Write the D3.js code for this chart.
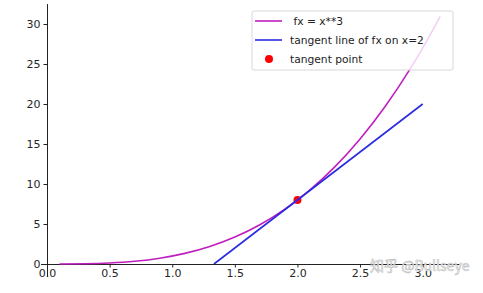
<!DOCTYPE html>
<html>
<head>
<meta charset="utf-8">
<script src="https://d3js.org/d3.v7.min.js"></script>
<style>
body { margin: 0; background: #fff; }
text { font-family: "DejaVu Sans", sans-serif; }
</style>
</head>
<body>
<div id="vis"></div>
<script>
var width = 483
var height = 293

// curve samples (fx = x**3)
var curveX = [0.1, 0.3, 0.5, 0.7, 0.9, 1.1, 1.3, 1.5, 1.7, 1.9, 2.0, 2.1, 2.3, 2.5, 2.7, 2.9, 3.05, 3.14]
var curveY = [0.001, 0.027, 0.125, 0.343, 0.729, 1.331, 2.197, 3.375, 4.913, 6.859, 8.0, 9.261, 12.167, 15.625, 19.683, 24.389, 28.37, 30.96]
// tangent line end points
var tangentX = [1.333, 3.0]
var tangentY = [0, 20]
var pointX = [2]
var pointY = [8]

var xTicks = [0.0, 0.5, 1.0, 1.5, 2.0, 2.5, 3.0]
var yTicks = [0, 5, 10, 15, 20, 25, 30]
var legendLabels = [" fx = x**3", "tangent line of fx on x=2", "tangent point"]

var svg = d3.select("#vis")
  .append("svg")
  .attr("width", width)
  .attr("height", height)
  .style("display", "block")

var x = d3.scaleLinear().domain([-0.052, 3.29]).range([40.5, 459])
var y = d3.scaleLinear().domain([-1.55, 32.55]).range([276.4, 3.6])

//axes, spines sit at data 0
var xAxis = svg.append("g")
  .attr("transform", `translate(0,${y(0)})`)
  .call(d3.axisBottom(x).tickValues(xTicks).tickFormat(d3.format(".1f")).tickSize(3.5).tickSizeOuter(0).tickPadding(2))
var yAxis = svg.append("g")
  .attr("transform", `translate(${x(0)},0)`)
  .call(d3.axisLeft(y).tickValues(yTicks).tickSize(3.5).tickSizeOuter(0).tickPadding(3))

svg.selectAll(".domain").attr("stroke", "#222").attr("stroke-width", 1)
svg.selectAll(".tick line").attr("stroke", "#222")
svg.selectAll(".tick text")
  .style("font-size", "11px")
  .attr("fill", "#262626")

var line = d3.line().x(d => x(d[0])).y(d => y(d[1])).curve(d3.curveMonotoneX)

//tangent point under the lines
svg.selectAll(".pt")
  .data(d3.zip(pointX, pointY))
  .enter().append("circle")
  .attr("cx", d => x(d[0]))
  .attr("cy", d => y(d[1]))
  .attr("r", 4)
  .attr("fill", "#ff0000")

svg.append("path")
  .datum(d3.zip(curveX, curveY))
  .attr("d", line)
  .attr("fill", "none")
  .attr("stroke", "#bf1fbf")
  .attr("stroke-width", 1.6)

svg.append("path")
  .datum(d3.zip(tangentX, tangentY))
  .attr("d", d3.line().x(d => x(d[0])).y(d => y(d[1])))
  .attr("fill", "none")
  .attr("stroke", "#2a2ae0")
  .attr("stroke-width", 1.6)

//legend
var legend = svg.append("g").attr("transform", "translate(252,11)")
legend.append("rect")
  .attr("width", 201)
  .attr("height", 59)
  .attr("rx", 2)
  .attr("fill", "white")
  .attr("fill-opacity", 0.8)
  .attr("stroke", "#d8d8d8")

var legendColors = ["#bf1fbf", "#2a2ae0", "#ff0000"]
legendLabels.forEach(function(label, i) {
  var ly = 10 + i * 19
  if (i < 2) {
    legend.append("line")
      .attr("x1", 3).attr("x2", 30)
      .attr("y1", ly).attr("y2", ly)
      .attr("stroke", legendColors[i])
      .attr("stroke-width", 1.6)
  } else {
    legend.append("circle")
      .attr("cx", 17).attr("cy", ly)
      .attr("r", 4)
      .attr("fill", legendColors[i])
  }
  legend.append("text")
    .attr("x", 38)
    .attr("y", ly + 4)
    .style("font-size", "10.7px")
    .style("white-space", "pre")
    .attr("fill", "#222")
    .text(label)
})

//watermark
svg.append("text")
  .attr("x", 370)
  .attr("y", 271)
  .style("font-family", "'Noto Sans CJK SC', sans-serif")
  .style("font-size", "14px")
  .attr("fill", "white")
  .attr("stroke", "#bbb")
  .attr("stroke-width", 0.6)
  .text("知乎 @Bullseye")
</script>
</body>
</html>
